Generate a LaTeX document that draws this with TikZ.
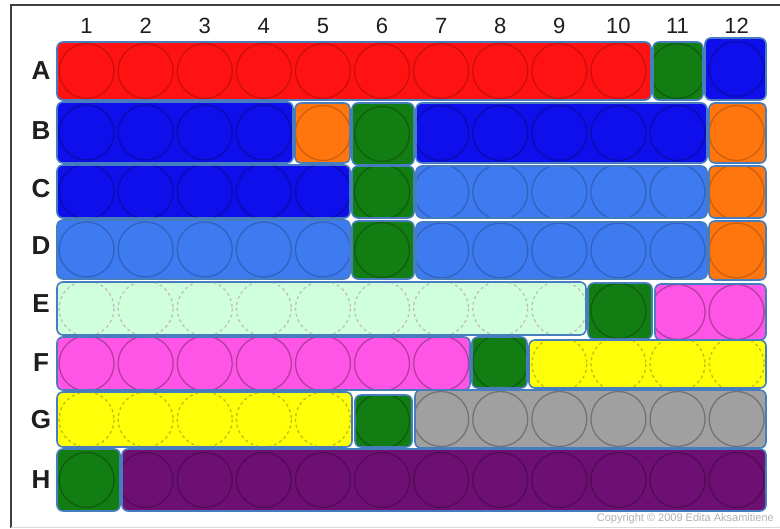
\documentclass[tikz,border=0pt]{standalone}
\usepackage{fontspec}
\setmainfont{Liberation Sans}
\definecolor{edge}{RGB}{70,125,190}
\definecolor{cred}{RGB}{255,18,18}
\definecolor{cblue}{RGB}{15,15,235}
\definecolor{cgreen}{RGB}{18,125,18}
\definecolor{corange}{RGB}{255,118,15}
\definecolor{clblue}{RGB}{62,122,240}
\definecolor{cpgreen}{RGB}{208,255,220}
\definecolor{cmag}{RGB}{255,85,230}
\definecolor{cyel}{RGB}{255,255,10}
\definecolor{cgray}{RGB}{160,160,160}
\definecolor{cpur}{RGB}{110,15,115}
\definecolor{txt}{RGB}{30,30,30}
\tikzset{
  block/.style={draw=edge, line width=1.6pt, rounded corners=6pt, inner sep=0pt, outer sep=0pt},
  well/.style={line width=1.3pt},
  colnum/.style={font=\fontsize{22}{22}\selectfont, text=txt, inner sep=0pt},
  rowlet/.style={font=\fontsize{26}{26}\selectfont\bfseries, text=txt, inner sep=0pt},
}
% name, x1, y1, x2, y2, fill, first col, last col, well colour
\newcommand\blk[9]{%
  \node[block, fill=#6, minimum width={(#4-#2)*1pt}, minimum height={(#5-#3)*1pt}]
    (#1) at ({(#2+#4)/2},{(#3+#5)/2}) {};
  \begin{scope}
    \clip[rounded corners=5pt] ({#2+0.8},{#3+0.8}) rectangle ({#4-0.8},{#5-0.8});
    \foreach \c in {#7,...,#8}{\draw[well, #9] ({57+59.1*(\c-0.5)},{(#3+#5)/2}) circle (27.5);}
  \end{scope}}
\begin{document}
\begin{tikzpicture}[x=1pt,y=-1pt]
\useasboundingbox (0,0) rectangle (780,529);
\fill[white] (0,0) rectangle (780,529);
% frame
\draw[line width=2pt, black!75] (780,5) -- (11,5) -- (11,528);
\draw[line width=1pt, black!15] (11,527) -- (780,527);
% column numbers
\foreach \c in {1,...,12}{\node[colnum] (col\c) at ({57+59.1*(\c-0.5)},26) {\c};}
% row letters
\node[rowlet] (rowA) at (41,71) {A};
\node[rowlet] (rowB) at (41,131) {B};
\node[rowlet] (rowC) at (41,189) {C};
\node[rowlet] (rowD) at (41,246) {D};
\node[rowlet] (rowE) at (41,304) {E};
\node[rowlet] (rowF) at (41,363) {F};
\node[rowlet] (rowG) at (41,420) {G};
\node[rowlet] (rowH) at (41,480) {H};
% row A
\blk{a1}{57}{42}{651}{100}{cred}{1}{10}{draw=cred!80!black}
\blk{a2}{653}{42}{703}{100}{cgreen}{11}{11}{draw=cgreen!75!black}
\blk{a3}{705}{38}{766}{100}{cblue}{12}{12}{draw=cblue!75!black}
% row B
\blk{b1}{57}{102}{293}{163}{cblue}{1}{4}{draw=cblue!75!black}
\blk{b2}{295}{103}{350}{163}{corange}{5}{5}{draw=corange!80!black}
\blk{b3}{352}{103}{414}{165}{cgreen}{6}{6}{draw=cgreen!75!black}
\blk{b4}{416}{103}{707}{163}{cblue}{7}{11}{draw=cblue!75!black}
\blk{b5}{709}{103}{766}{163}{corange}{12}{12}{draw=corange!80!black}
% row C
\blk{c1}{57}{165}{350}{218}{cblue}{1}{5}{draw=cblue!75!black}
\blk{c2}{352}{166}{414}{218}{cgreen}{6}{6}{draw=cgreen!75!black}
\blk{c3}{416}{166}{707}{218}{clblue}{7}{11}{draw=clblue!80!black}
\blk{c4}{709}{166}{766}{218}{corange}{12}{12}{draw=corange!80!black}
% row D
\blk{d1}{57}{220}{350}{279}{clblue}{1}{5}{draw=clblue!80!black}
\blk{d2}{352}{221}{414}{279}{cgreen}{6}{6}{draw=cgreen!75!black}
\blk{d3}{416}{222}{707}{279}{clblue}{7}{11}{draw=clblue!80!black}
\blk{d4}{709}{221}{766}{280}{corange}{12}{12}{draw=corange!80!black}
% row E
\blk{e1}{57}{282}{586}{335}{cpgreen}{1}{9}{draw=black!25, dashed}
\blk{e2}{588}{283}{652}{339}{cgreen}{10}{10}{draw=cgreen!75!black}
\blk{e3}{655}{284}{766}{340}{cmag}{11}{12}{draw=cmag!70!black}
% row F
\blk{f1}{57}{337}{470}{390}{cmag}{1}{7}{draw=cmag!70!black}
\blk{f2}{472}{337}{527}{388}{cgreen}{8}{8}{draw=cgreen!75!black}
\blk{f3}{529}{340}{766}{388}{cyel}{9}{12}{draw=cyel!75!black, dashed}
% row G
\blk{g1}{57}{392}{352}{447}{cyel}{1}{5}{draw=cyel!75!black, dashed}
\blk{g2}{355}{395}{412}{447}{cgreen}{6}{6}{draw=cgreen!75!black}
\blk{g3}{415}{390}{766}{448}{cgray}{7}{12}{draw=black!55}
% row H
\blk{h1}{57}{449}{120}{511}{cgreen}{1}{1}{draw=cgreen!75!black}
\blk{h2}{122}{449}{766}{511}{cpur}{2}{12}{draw=cpur!75!black}
% copyright
\node[anchor=east, inner sep=0pt, text=black!30, font=\fontsize{11}{11}\selectfont] (copy) at (774,519) {Copyright \textcopyright{} 2009 Edita Aksamitiene};
\end{tikzpicture}
\end{document}
